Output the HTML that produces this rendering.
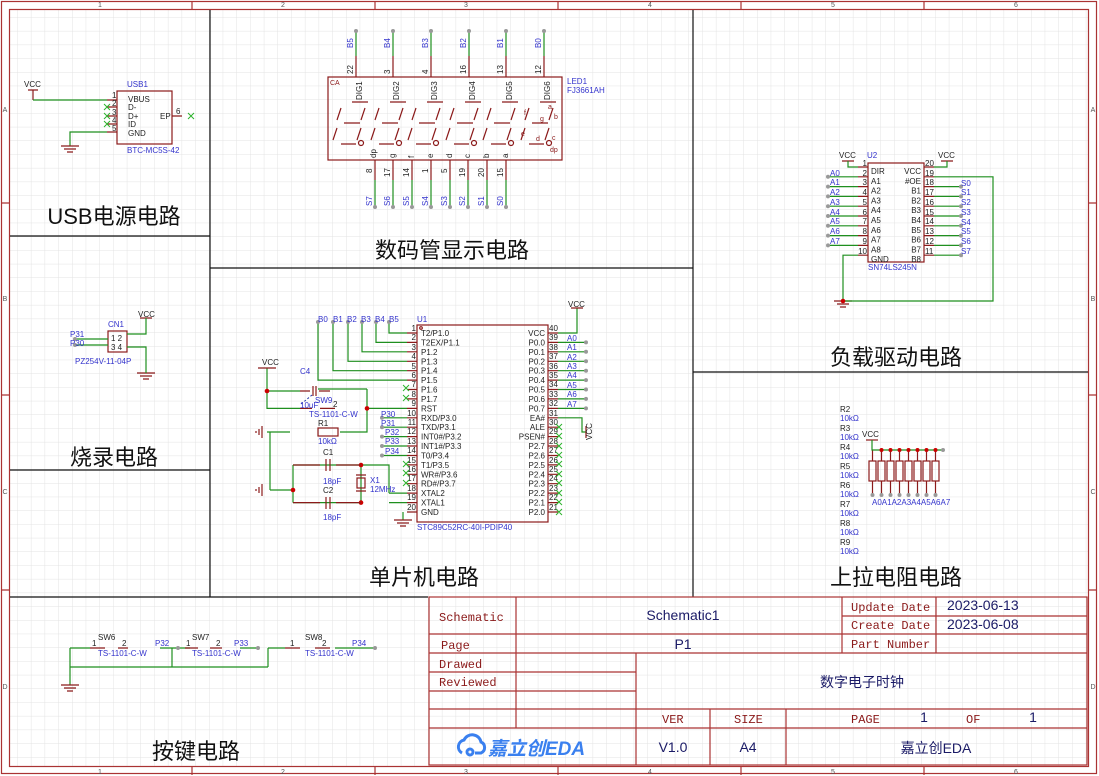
<!DOCTYPE html>
<html><head><meta charset="utf-8"><style>
html,body{margin:0;padding:0;background:#fff}
svg{display:block}
text{font-family:"Liberation Sans","Noto Sans CJK SC",sans-serif}
.s{font-size:8px;fill:#222}
.b{font-size:8px;fill:#3333cc}
.r{font-size:7px;fill:#8b1a1a}
.t{font-size:22px;fill:#111;text-anchor:middle;font-family:"Liberation Sans","Noto Sans CJK SC",sans-serif}
.m{font-family:"Liberation Mono","Noto Sans CJK SC",monospace;font-size:12px;fill:#8b1a1a}
.n{font-size:14px;fill:#1a1a66}
.w{stroke:#1f8f1f;stroke-width:1.2;fill:none}
.p{stroke:#8b1a1a;stroke-width:1.2;fill:none}
.x{stroke:#2db32d;stroke-width:1;fill:none}
.k{stroke:#111;stroke-width:1.2;fill:none}
.f{stroke:#a33;stroke-width:1.2;fill:none}
</style></head><body>
<svg width="1099" height="776" viewBox="0 0 1099 776" xmlns="http://www.w3.org/2000/svg">
<defs>
<pattern id="g" width="13.7" height="13.7" patternUnits="userSpaceOnUse" x="4" y="4">
<path d="M13.7 0V13.7H0" fill="none" stroke="#e3e3e3" stroke-width="1"/>
</pattern>
</defs>
<rect width="1099" height="776" fill="#fff"/>
<rect x="9" y="9" width="1080" height="758" fill="url(#g)"/>
<!-- frame -->
<rect x="1.5" y="1.5" width="1095" height="772" class="f"/>
<rect x="9.5" y="9.5" width="1079" height="757" class="f"/>
<g class="f"><path d="M192 1V9M375 1V9M558 1V9M741 1V9M924 1V9M192 767V775M375 767V775M558 767V775M741 767V775M924 767V775M1 203H9M1 395H9M1 590H9M1089 203H1097M1089 395H1097M1089 590H1097"/></g>
<g font-size="7" fill="#555" text-anchor="middle">
<text x="100" y="7">1</text><text x="283" y="7">2</text><text x="466" y="7">3</text><text x="650" y="7">4</text><text x="833" y="7">5</text><text x="1016" y="7">6</text>
<text x="100" y="774">1</text><text x="283" y="774">2</text><text x="466" y="774">3</text><text x="650" y="774">4</text><text x="833" y="774">5</text><text x="1016" y="774">6</text>
<text x="5" y="112">A</text><text x="5" y="301">B</text><text x="5" y="494">C</text><text x="5" y="689">D</text>
<text x="1093" y="112">A</text><text x="1093" y="301">B</text><text x="1093" y="494">C</text><text x="1093" y="689">D</text>
</g>
<!-- section lines -->
<g class="k"><path d="M210 10V597M693 10V597M210 268H693M10 236H210M10 470H210M693 372H1088M10 597H428"/></g>
<text class="t" x="114" y="224">USB电源电路</text>
<text class="t" x="452" y="258">数码管显示电路</text>
<text class="t" x="424" y="585">单片机电路</text>
<text class="t" x="896" y="365">负载驱动电路</text>
<text class="t" x="114" y="465">烧录电路</text>
<text class="t" x="896" y="585">上拉电阻电路</text>
<text class="t" x="196" y="759">按键电路</text>

<!-- title block -->
<g class="f">
<rect x="429" y="597" width="658" height="168"/>
<path d="M429 634H842M429 653H1087M842 616H1087M842 634H1087M429 672H636M429 691H636M429 709H1087M429 728H1087M516 597V728M636 653V765M710 709V765M786 709V765M842 597V653M936 597V653"/>
</g>
<text class="m" x="439" y="621">Schematic</text>
<text class="m" x="441" y="649">Page</text>
<text class="m" x="439" y="668">Drawed</text>
<text class="m" x="439" y="686">Reviewed</text>
<text class="m" x="851" y="611">Update Date</text>
<text class="m" x="851" y="629">Create Date</text>
<text class="m" x="851" y="648">Part Number</text>
<text class="m" x="662" y="723">VER</text>
<text class="m" x="734" y="723">SIZE</text>
<text class="m" x="851" y="723">PAGE</text>
<text class="m" x="966" y="723">OF</text>
<text class="n" x="683" y="620" text-anchor="middle">Schematic1</text>
<text class="n" x="683" y="649" text-anchor="middle" font-size="13">P1</text>
<text class="n" x="947" y="610" font-size="12">2023-06-13</text>
<text class="n" x="947" y="629" font-size="12">2023-06-08</text>
<text class="n" x="862" y="687" text-anchor="middle">数字电子时钟</text>
<text class="n" x="924" y="722" text-anchor="middle" font-size="12">1</text>
<text class="n" x="1033" y="722" text-anchor="middle" font-size="12">1</text>
<text class="n" x="673" y="752" text-anchor="middle" font-size="13">V1.0</text>
<text class="n" x="748" y="752" text-anchor="middle" font-size="13">A4</text>
<text class="n" x="936" y="753" text-anchor="middle" font-size="16">嘉立创EDA</text>
<g fill="none" stroke="#3a80ef" stroke-width="3"><path d="M462 753a7 7 0 0 1 2-13a9 9 0 0 1 17 2a6 6 0 0 1 0 11h-6"/><circle cx="470" cy="752" r="3"/></g>
<text x="488" y="755" font-size="19" font-weight="bold" font-style="italic" fill="#3a80ef">嘉立创EDA</text>

<!-- ===== USB ===== -->
<g class="p"><rect x="117" y="91" width="55" height="53"/><path d="M107 100H117M107 107H117M107 116H117M107 124H117M107 132H117M172 116H182M28 90H38M33 90V100"/></g>
<g class="w"><path d="M33 100H107M107 132H70V146"/></g>
<g class="x"><path d="M104 104l6 6M110 104l-6 6M104 113l6 6M110 113l-6 6M104 121l6 6M110 121l-6 6M188 113l6 6M194 113l-6 6"/></g>
<g class="p"><path d="M61 146H79M64 149H76M67 152H73"/></g>
<text class="s" x="24" y="87">VCC</text>
<text class="b" x="127" y="87">USB1</text>
<text class="b" x="127" y="153" font-size="7">BTC-MC5S-42</text>
<g class="s" font-size="7"><text x="128" y="102">VBUS</text><text x="128" y="110">D-</text><text x="128" y="119">D+</text><text x="128" y="127">ID</text><text x="128" y="136">GND</text><text x="160" y="119">EP</text>
<text x="112" y="98">1</text><text x="112" y="106">2</text><text x="112" y="115">3</text><text x="112" y="123">4</text><text x="112" y="131">5</text><text x="176" y="114">6</text></g>

<!-- ===== CN1 ===== -->
<g class="p"><rect x="108" y="331" width="19" height="21"/><path d="M140 318H152"/><path d="M137 373H155M140 376H152M143 379H149"/></g>
<g class="w"><path d="M146 318V334H127M127 347H146V373M75 339H108M75 345H108"/></g>
<circle cx="75" cy="339" r="2" fill="#999"/><circle cx="75" cy="345" r="2" fill="#999"/>
<text class="s" x="138" y="317">VCC</text><text class="b" x="108" y="327">CN1</text>
<text class="b" x="70" y="337">P31</text><text class="b" x="70" y="346">P30</text>
<text class="s" x="111" y="341" font-size="7">1 2</text><text class="s" x="111" y="350" font-size="7">3 4</text>
<text class="b" x="75" y="364" font-size="7">PZ254V-11-04P</text>

<!-- ===== Buttons ===== -->
<g class="w"><path d="M70 648V685M70 667H268M70 648H90M160 648H178M172 648V667M190 648H172M240 648H258M268 648V667M268 648H285M335 648H375"/></g>
<g class="p"><path d="M61 685H79M64 688H76M67 691H73M90 648H105M118 648H128M185 648H198M210 648H222M285 648H300M315 648H330"/></g>
<circle cx="178" cy="648" r="2" fill="#999"/><circle cx="258" cy="648" r="2" fill="#999"/><circle cx="375" cy="648" r="2" fill="#999"/>
<text class="s" x="98" y="640">SW6</text><text class="s" x="92" y="646" font-size="7">1</text><text class="s" x="122" y="646" font-size="7">2</text><text class="b" x="155" y="646">P32</text><text class="b" x="98" y="656" font-size="7">TS-1101-C-W</text>
<text class="s" x="192" y="640">SW7</text><text class="s" x="186" y="646" font-size="7">1</text><text class="s" x="216" y="646" font-size="7">2</text><text class="b" x="234" y="646">P33</text><text class="b" x="192" y="656" font-size="7">TS-1101-C-W</text>
<text class="s" x="305" y="640">SW8</text><text class="s" x="290" y="646" font-size="7">1</text><text class="s" x="322" y="646" font-size="7">2</text><text class="b" x="352" y="646">P34</text><text class="b" x="305" y="656" font-size="7">TS-1101-C-W</text>

<!-- ===== LED1 ===== -->
<rect x="328" y="77" width="234" height="83" class="p"/>
<g class="p"><path d="M356 77V56M393 77V56M431 77V56M469 77V56M506 77V56M544 77V56M375 160V180M393 160V180M412 160V180M431 160V180M450 160V180M468 160V180M487 160V180M506 160V180"/></g>
<g class="w"><path d="M356 56V32M393 56V32M431 56V32M469 56V32M506 56V32M544 56V32M375 180V207M393 180V207M412 180V207M431 180V207M450 180V207M468 180V207M487 180V207M506 180V207"/></g>
<g fill="#999"><circle cx="356" cy="31" r="2"/><circle cx="393" cy="31" r="2"/><circle cx="431" cy="31" r="2"/><circle cx="469" cy="31" r="2"/><circle cx="506" cy="31" r="2"/><circle cx="544" cy="31" r="2"/>
<circle cx="375" cy="207" r="2"/><circle cx="393" cy="207" r="2"/><circle cx="412" cy="207" r="2"/><circle cx="431" cy="207" r="2"/><circle cx="450" cy="207" r="2"/><circle cx="468" cy="207" r="2"/><circle cx="487" cy="207" r="2"/><circle cx="506" cy="207" r="2"/></g>
<g class="b" font-size="7">
<text transform="translate(353,48) rotate(-90)">B5</text><text transform="translate(390,48) rotate(-90)">B4</text><text transform="translate(428,48) rotate(-90)">B3</text><text transform="translate(466,48) rotate(-90)">B2</text><text transform="translate(503,48) rotate(-90)">B1</text><text transform="translate(541,48) rotate(-90)">B0</text>
<text transform="translate(372,206) rotate(-90)">S7</text><text transform="translate(390,206) rotate(-90)">S6</text><text transform="translate(409,206) rotate(-90)">S5</text><text transform="translate(428,206) rotate(-90)">S4</text><text transform="translate(447,206) rotate(-90)">S3</text><text transform="translate(465,206) rotate(-90)">S2</text><text transform="translate(484,206) rotate(-90)">S1</text><text transform="translate(503,206) rotate(-90)">S0</text>
</g>
<g class="s" font-size="7">
<text transform="translate(353,74) rotate(-90)">22</text><text transform="translate(390,74) rotate(-90)">3</text><text transform="translate(428,74) rotate(-90)">4</text><text transform="translate(466,74) rotate(-90)">16</text><text transform="translate(503,74) rotate(-90)">13</text><text transform="translate(541,74) rotate(-90)">12</text>
<text transform="translate(372,173) rotate(-90)">8</text><text transform="translate(390,177) rotate(-90)">17</text><text transform="translate(409,177) rotate(-90)">14</text><text transform="translate(428,173) rotate(-90)">1</text><text transform="translate(447,173) rotate(-90)">5</text><text transform="translate(465,177) rotate(-90)">19</text><text transform="translate(484,177) rotate(-90)">20</text><text transform="translate(503,177) rotate(-90)">15</text>
<text transform="translate(376,158) rotate(-90)">dp</text><text transform="translate(395,158) rotate(-90)">g</text><text transform="translate(414,158) rotate(-90)">f</text><text transform="translate(433,158) rotate(-90)">e</text><text transform="translate(452,158) rotate(-90)">d</text><text transform="translate(470,158) rotate(-90)">c</text><text transform="translate(489,158) rotate(-90)">b</text><text transform="translate(508,158) rotate(-90)">a</text>
<text transform="translate(362,100) rotate(-90)">DIG1</text><text transform="translate(399,100) rotate(-90)">DIG2</text><text transform="translate(437,100) rotate(-90)">DIG3</text><text transform="translate(475,100) rotate(-90)">DIG4</text><text transform="translate(512,100) rotate(-90)">DIG5</text><text transform="translate(550,100) rotate(-90)">DIG6</text>
</g>
<text class="r" x="330" y="85">CA</text>
<text class="b" x="567" y="84">LED1</text><text class="b" x="567" y="93">FJ3661AH</text>
<g class="p" stroke-width="1.4">
<path d="M352 102H368M341 108l-4 12M365 108l-4 12M344 123H360M337 128l-4 12M361 128l-4 12M341 144H356"/>
<path d="M390 102H406M379 108l-4 12M403 108l-4 12M382 123H398M375 128l-4 12M399 128l-4 12M379 144H394"/>
<path d="M427 102H443M416 108l-4 12M440 108l-4 12M419 123H435M412 128l-4 12M436 128l-4 12M416 144H431"/>
<path d="M465 102H481M454 108l-4 12M478 108l-4 12M457 123H473M450 128l-4 12M474 128l-4 12M454 144H469"/>
<path d="M502 102H518M491 108l-4 12M515 108l-4 12M494 123H510M487 128l-4 12M511 128l-4 12M491 144H506"/>
<path d="M540 102H556M529 108l-4 12M553 108l-4 12M532 123H548M525 128l-4 12M549 128l-4 12M529 144H544"/>
<circle cx="361" cy="143" r="2.5"/><circle cx="399" cy="143" r="2.5"/><circle cx="436" cy="143" r="2.5"/><circle cx="474" cy="143" r="2.5"/><circle cx="511" cy="143" r="2.5"/><circle cx="549" cy="143" r="2.5"/>
</g>
<g class="r" font-size="6"><text x="524" y="115">f</text><text x="548" y="109">a</text><text x="554" y="119">b</text><text x="540" y="121">g</text><text x="521" y="136">e</text><text x="536" y="141">d</text><text x="552" y="140">c</text><text x="550" y="152">dp</text></g>

<!-- ===== MCU U1 ===== -->
<rect x="417" y="325" width="131" height="197" class="p"/>
<circle cx="421" cy="328" r="1.3" class="p" stroke-width="0.8"/>
<g class="p" stroke-width="1">
<path d="M407 333H417M407 342.4H417M407 351.8H417M407 361.3H417M407 370.7H417M407 380.1H417M407 389.5H417M407 398.9H417M407 408.4H417M407 417.8H417M407 427.2H417M407 436.6H417M407 446H417M407 455.5H417M407 464.9H417M407 474.3H417M407 483.7H417M407 493.1H417M407 502.6H417M407 512H417"/>
<path d="M548 333H558M548 342.4H558M548 351.8H558M548 361.3H558M548 370.7H558M548 380.1H558M548 389.5H558M548 398.9H558M548 408.4H558M548 417.8H558M548 427.2H558M548 436.6H558M548 446H558M548 455.5H558M548 464.9H558M548 474.3H558M548 483.7H558M548 493.1H558M548 502.6H558M548 512H558"/>
</g>
<g class="s">
<text x="421" y="336">T2/P1.0</text><text x="421" y="345.4">T2EX/P1.1</text><text x="421" y="354.8">P1.2</text><text x="421" y="364.3">P1.3</text><text x="421" y="373.7">P1.4</text><text x="421" y="383.1">P1.5</text><text x="421" y="392.5">P1.6</text><text x="421" y="401.9">P1.7</text><text x="421" y="411.4">RST</text><text x="421" y="420.8">RXD/P3.0</text><text x="421" y="430.2">TXD/P3.1</text><text x="421" y="439.6">INT0#/P3.2</text><text x="421" y="449">INT1#/P3.3</text><text x="421" y="458.5">T0/P3.4</text><text x="421" y="467.9">T1/P3.5</text><text x="421" y="477.3">WR#/P3.6</text><text x="421" y="486.7">RD#/P3.7</text><text x="421" y="496.1">XTAL2</text><text x="421" y="505.6">XTAL1</text><text x="421" y="515">GND</text>
</g>
<g class="s" text-anchor="end">
<text x="545" y="336">VCC</text><text x="545" y="345.4">P0.0</text><text x="545" y="354.8">P0.1</text><text x="545" y="364.3">P0.2</text><text x="545" y="373.7">P0.3</text><text x="545" y="383.1">P0.4</text><text x="545" y="392.5">P0.5</text><text x="545" y="401.9">P0.6</text><text x="545" y="411.4">P0.7</text><text x="545" y="420.8">EA#</text><text x="545" y="430.2">ALE</text><text x="545" y="439.6">PSEN#</text><text x="545" y="449">P2.7</text><text x="545" y="458.5">P2.6</text><text x="545" y="467.9">P2.5</text><text x="545" y="477.3">P2.4</text><text x="545" y="486.7">P2.3</text><text x="545" y="496.1">P2.2</text><text x="545" y="505.6">P2.1</text><text x="545" y="515">P2.0</text>
</g>
<g class="s" font-size="7" text-anchor="end">
<text x="416" y="331">1</text><text x="416" y="340">2</text><text x="416" y="350">3</text><text x="416" y="359">4</text><text x="416" y="369">5</text><text x="416" y="378">6</text><text x="416" y="387">7</text><text x="416" y="397">8</text><text x="416" y="406">9</text><text x="416" y="416">10</text><text x="416" y="425">11</text><text x="416" y="434">12</text><text x="416" y="444">13</text><text x="416" y="453">14</text><text x="416" y="463">15</text><text x="416" y="472">16</text><text x="416" y="481">17</text><text x="416" y="491">18</text><text x="416" y="500">19</text><text x="416" y="510">20</text>
</g>
<g class="s" font-size="7">
<text x="549" y="331">40</text><text x="549" y="340">39</text><text x="549" y="350">38</text><text x="549" y="359">37</text><text x="549" y="369">36</text><text x="549" y="378">35</text><text x="549" y="387">34</text><text x="549" y="397">33</text><text x="549" y="406">32</text><text x="549" y="416">31</text><text x="549" y="425">30</text><text x="549" y="434">29</text><text x="549" y="444">28</text><text x="549" y="453">27</text><text x="549" y="463">26</text><text x="549" y="472">25</text><text x="549" y="481">24</text><text x="549" y="491">23</text><text x="549" y="500">22</text><text x="549" y="510">21</text>
</g>
<text class="b" x="417" y="322">U1</text>
<text class="b" x="417" y="530">STC89C52RC-40I-PDIP40</text>
<!-- MCU left wires -->
<g class="w">
<path d="M389 322V333H407M376 322V342.4H407M362 322V351.8H407M348 322V361.3H407M333 322V370.7H407M318 322V380.1H407"/>
<path d="M382 417.8H407M382 427.2H407M382 436.6H407M382 446H407M382 455.5H407"/>
<path d="M367 408.4H407M367 389H318M367 389V432H340"/>
<path d="M389 493.1H407M389 493.1V465H293M389 502.6H407M293 502.6H361M293 465V502.6M361 465V502.6"/>
<path d="M403 512V520"/>
<path d="M267 368V408.4H300M267 391H300M267 432H290M270 432V490M270 490H293"/>
</g>
<g fill="#999"><circle cx="318" cy="322" r="2"/><circle cx="333" cy="322" r="2"/><circle cx="348" cy="322" r="2"/><circle cx="362" cy="322" r="2"/><circle cx="376" cy="322" r="2"/><circle cx="389" cy="322" r="2"/>
<circle cx="382" cy="417.8" r="2"/><circle cx="382" cy="427.2" r="2"/><circle cx="382" cy="436.6" r="2"/><circle cx="382" cy="446" r="2"/><circle cx="382" cy="455.5" r="2"/></g>
<g fill="#c00"><circle cx="367" cy="408.4" r="2.3"/><circle cx="361" cy="465" r="2.3"/><circle cx="361" cy="502.6" r="2.3"/><circle cx="267" cy="391" r="2.3"/><circle cx="293" cy="490" r="2.3"/></g>
<g class="b" font-size="7.5"><text x="318" y="322">B0</text><text x="333" y="322">B1</text><text x="347" y="322">B2</text><text x="361" y="322">B3</text><text x="375" y="322">B4</text><text x="389" y="322">B5</text>
<text x="381" y="417">P30</text><text x="381" y="426">P31</text><text x="385" y="435">P32</text><text x="385" y="444">P33</text><text x="385" y="454">P34</text></g>
<g class="x"><path d="M403 385l6 6M409 385l-6 6M403 395l6 6M409 395l-6 6M403 461l6 6M409 461l-6 6M403 470l6 6M409 470l-6 6M403 480l6 6M409 480l-6 6"/></g>
<!-- components left of MCU -->
<g class="p">
<path d="M394 520H412M397 523H409M400 526H406"/>
<path d="M258 368H276"/>
<rect x="318" y="428" width="20" height="8"/>
<path d="M293 465H320M326 459V471M330 459V471M336 465H361M293 502.6H320M326 497V509M330 497V509M336 502.6H361"/>
<rect x="357" y="478" width="8" height="10"/><path d="M356 475H366M356 491H366"/>
<path d="M300 408.4H312M320 408.4H335M300 391H310M313 386V396M316 386V396M319 391H330"/>
<path d="M262 426V438M259 429V435M256 431V433M262 484V496M259 487V493M256 489V491"/>
</g>
<path d="M312 395L300 405" stroke="#2233aa" stroke-dasharray="2 2" fill="none"/>
<g class="b" font-size="7.5"><text x="300" y="374">C4</text><text x="315" y="403">SW9</text><text x="300" y="408">10uF</text><text x="309" y="417">TS-1101-C-W</text><text x="318" y="444">10kΩ</text><text x="323" y="484">18pF</text><text x="323" y="520">18pF</text><text x="370" y="483">X1</text><text x="370" y="492">12MHz</text></g>
<g class="s" font-size="7.5"><text x="262" y="365">VCC</text><text x="318" y="426">R1</text><text x="323" y="455">C1</text><text x="323" y="493">C2</text><text x="333" y="407">2</text></g>
<!-- MCU right wires -->
<g class="w">
<path d="M558 333H577V308M558 342.4H586M558 351.8H586M558 361.3H586M558 370.7H586M558 380.1H586M558 389.5H586M558 398.9H586M558 408.4H586M558 417.8H582V432H586"/>
</g>
<g class="p"><path d="M571 308H583M586 426V438"/></g>
<g fill="#999"><circle cx="586" cy="342.4" r="2"/><circle cx="586" cy="351.8" r="2"/><circle cx="586" cy="361.3" r="2"/><circle cx="586" cy="370.7" r="2"/><circle cx="586" cy="380.1" r="2"/><circle cx="586" cy="389.5" r="2"/><circle cx="586" cy="398.9" r="2"/><circle cx="586" cy="408.4" r="2"/></g>
<text class="s" x="568" y="307">VCC</text>
<text class="s" transform="translate(592,440) rotate(-90)" font-size="7.5">VCC</text>
<g class="b" font-size="7.5"><text x="567" y="341">A0</text><text x="567" y="350">A1</text><text x="567" y="360">A2</text><text x="567" y="369">A3</text><text x="567" y="378">A4</text><text x="567" y="388">A5</text><text x="567" y="397">A6</text><text x="567" y="407">A7</text></g>
<g class="x"><path d="M556 424l6 6M562 424l-6 6M556 433l6 6M562 433l-6 6M556 443l6 6M562 443l-6 6M556 452l6 6M562 452l-6 6M556 461l6 6M562 461l-6 6M556 471l6 6M562 471l-6 6M556 480l6 6M562 480l-6 6M556 490l6 6M562 490l-6 6M556 499l6 6M562 499l-6 6M556 509l6 6M562 509l-6 6"/></g>

<!-- ===== U2 ===== -->
<rect x="868" y="163" width="56" height="99" class="p"/>
<g class="p" stroke-width="1"><path d="M858 167H868M858 176.8H868M858 186.6H868M858 196.4H868M858 206.2H868M858 216H868M858 225.8H868M858 235.6H868M858 245.4H868M858 255.2H868M924 167H934M924 176.8H934M924 186.6H934M924 196.4H934M924 206.2H934M924 216H934M924 225.8H934M924 235.6H934M924 245.4H934M924 255.2H934M842 161H854M941 161H953M834 301H852M837 304H849M840 307H846"/></g>
<g class="w">
<path d="M848 161V167H858M947 161V167H934M828 176.8H858M828 186.6H858M828 196.4H858M828 206.2H858M828 216H858M828 225.8H858M828 235.6H858M828 245.4H858M858 255.2H843V301M934 176.8H993V301H843"/>
<path d="M934 186.6H961M934 196.4H961M934 206.2H961M934 216H961M934 225.8H961M934 235.6H961M934 245.4H961M934 255.2H961"/>
</g>
<circle cx="843" cy="301" r="2.3" fill="#c00"/>
<g fill="#999"><circle cx="828" cy="176.8" r="2"/><circle cx="828" cy="186.6" r="2"/><circle cx="828" cy="196.4" r="2"/><circle cx="828" cy="206.2" r="2"/><circle cx="828" cy="216" r="2"/><circle cx="828" cy="225.8" r="2"/><circle cx="828" cy="235.6" r="2"/><circle cx="828" cy="245.4" r="2"/>
<circle cx="961" cy="186.6" r="2"/><circle cx="961" cy="196.4" r="2"/><circle cx="961" cy="206.2" r="2"/><circle cx="961" cy="216" r="2"/><circle cx="961" cy="225.8" r="2"/><circle cx="961" cy="235.6" r="2"/><circle cx="961" cy="245.4" r="2"/><circle cx="961" cy="255.2" r="2"/></g>
<g class="s"><text x="871" y="174">DIR</text><text x="871" y="183.8">A1</text><text x="871" y="193.6">A2</text><text x="871" y="203.4">A3</text><text x="871" y="213.2">A4</text><text x="871" y="223">A5</text><text x="871" y="232.8">A6</text><text x="871" y="242.6">A7</text><text x="871" y="252.4">A8</text><text x="871" y="262.2">GND</text></g>
<g class="s" text-anchor="end"><text x="921" y="174">VCC</text><text x="921" y="183.8">#OE</text><text x="921" y="193.6">B1</text><text x="921" y="203.4">B2</text><text x="921" y="213.2">B3</text><text x="921" y="223">B4</text><text x="921" y="232.8">B5</text><text x="921" y="242.6">B6</text><text x="921" y="252.4">B7</text><text x="921" y="262.2">B8</text></g>
<g class="s" font-size="7" text-anchor="end"><text x="867" y="166">1</text><text x="867" y="176">2</text><text x="867" y="185">3</text><text x="867" y="195">4</text><text x="867" y="205">5</text><text x="867" y="215">6</text><text x="867" y="224">7</text><text x="867" y="234">8</text><text x="867" y="244">9</text><text x="867" y="254">10</text></g>
<g class="s" font-size="7"><text x="925" y="166">20</text><text x="925" y="176">19</text><text x="925" y="185">18</text><text x="925" y="195">17</text><text x="925" y="205">16</text><text x="925" y="215">15</text><text x="925" y="224">14</text><text x="925" y="234">13</text><text x="925" y="244">12</text><text x="925" y="254">11</text></g>
<text class="s" x="839" y="158">VCC</text><text class="s" x="938" y="158">VCC</text><text class="b" x="867" y="158">U2</text>
<text class="b" x="868" y="270">SN74LS245N</text>
<g class="b" font-size="7.5"><text x="830" y="176">A0</text><text x="830" y="185">A1</text><text x="830" y="195">A2</text><text x="830" y="205">A3</text><text x="830" y="215">A4</text><text x="830" y="224">A5</text><text x="830" y="234">A6</text><text x="830" y="244">A7</text>
<text x="961" y="186">S0</text><text x="961" y="195">S1</text><text x="961" y="205">S2</text><text x="961" y="215">S3</text><text x="961" y="225">S4</text><text x="961" y="234">S5</text><text x="961" y="244">S6</text><text x="961" y="254">S7</text></g>

<!-- ===== pull-up resistors ===== -->
<g class="s" font-size="7.5"><text x="840" y="412">R2</text><text x="840" y="431">R3</text><text x="840" y="450">R4</text><text x="840" y="469">R5</text><text x="840" y="488">R6</text><text x="840" y="507">R7</text><text x="840" y="526">R8</text><text x="840" y="545">R9</text><text x="862" y="437">VCC</text></g>
<g class="b" font-size="7.5"><text x="840" y="421">10kΩ</text><text x="840" y="440">10kΩ</text><text x="840" y="459">10kΩ</text><text x="840" y="478">10kΩ</text><text x="840" y="497">10kΩ</text><text x="840" y="516">10kΩ</text><text x="840" y="535">10kΩ</text><text x="840" y="554">10kΩ</text>
<text x="872" y="505">A0A1A2A3A4A5A6A7</text></g>
<g class="p"><path d="M866 440H878"/>
<rect x="869" y="461" width="7" height="20"/><rect x="878" y="461" width="7" height="20"/><rect x="887" y="461" width="7" height="20"/><rect x="896" y="461" width="7" height="20"/><rect x="905" y="461" width="7" height="20"/><rect x="914" y="461" width="7" height="20"/><rect x="923" y="461" width="7" height="20"/><rect x="932" y="461" width="7" height="20"/>
<path d="M872.5 481V494M881.5 481V494M890.5 481V494M899.5 481V494M908.5 481V494M917.5 481V494M926.5 481V494M935.5 481V494M872.5 461V450M881.5 461V450M890.5 461V450M899.5 461V450M908.5 461V450M917.5 461V450M926.5 461V450M935.5 461V450"/></g>
<g class="w"><path d="M872 440V450H942"/></g>
<g fill="#c00"><circle cx="881.5" cy="450" r="2"/><circle cx="890.5" cy="450" r="2"/><circle cx="899.5" cy="450" r="2"/><circle cx="908.5" cy="450" r="2"/><circle cx="917.5" cy="450" r="2"/><circle cx="926.5" cy="450" r="2"/><circle cx="935.5" cy="450" r="2"/></g>
<g fill="#999"><circle cx="872.5" cy="495" r="2"/><circle cx="881.5" cy="495" r="2"/><circle cx="890.5" cy="495" r="2"/><circle cx="899.5" cy="495" r="2"/><circle cx="908.5" cy="495" r="2"/><circle cx="917.5" cy="495" r="2"/><circle cx="926.5" cy="495" r="2"/><circle cx="935.5" cy="495" r="2"/><circle cx="943" cy="450" r="2"/></g>
</svg>
</body></html>
